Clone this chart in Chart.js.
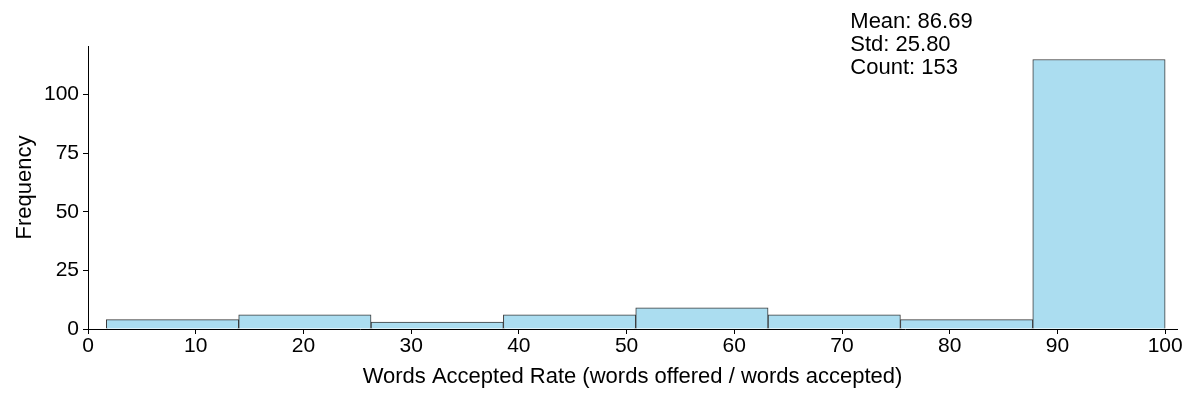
<!DOCTYPE html>
<html lang="en">
<head>
  <meta charset="UTF-8" />
  <title>Words Accepted Rate</title>
  <style>
    html, body { margin: 0; padding: 0; background: #fff; }
    #wrap { width: 1200px; height: 400px; position: relative; }
  </style>
</head>
<body>
  <div id="wrap"><canvas id="histChart"></canvas></div>

  <script src="https://cdn.jsdelivr.net/npm/chart.js"></script>
  <script>
    // histogram data
    const binEdges = [1.7, 13.99, 26.28, 38.56, 50.85, 63.14, 75.42, 87.71, 100];
    const counts = [4, 6, 3, 6, 9, 6, 4, 115];
    const xTicks = [0, 10, 20, 30, 40, 50, 60, 70, 80, 90, 100];
    const yTicks = [0, 25, 50, 75, 100];
    const statLines = ['Mean: 86.69', 'Std: 25.80', 'Count: 153'];

    const font = "'Liberation Sans', Arial, sans-serif";

    const points = counts.map((c, i) => ({ x: (binEdges[i] + binEdges[i + 1]) / 2, y: c }));

    // text box with the summary numbers
    const statsPlugin = {
      id: 'stats',
      afterDraw(chart) {
        const ctx = chart.ctx;
        const area = chart.chartArea;
        ctx.save();
        ctx.fillStyle = '#000';
        ctx.font = '22px ' + font;
        ctx.textBaseline = 'alphabetic';
        const x = area.left + 0.7 * (area.right - area.left);
        statLines.forEach((t, i) => ctx.fillText(t, x, 28 + i * 23));
        ctx.restore();
      }
    };

    new Chart(document.getElementById('histChart'), {
      type: 'bar',
      data: {
        datasets: [{
          label: 'Frequency',
          data: points,
          backgroundColor: '#abddf0',
          borderColor: '#3a3a3a',
          borderWidth: 1,
          barThickness: 'flex',
          barPercentage: 1,
          categoryPercentage: 1
        }]
      },
      options: {
        responsive: true,
        maintainAspectRatio: false,
        animation: false,
        layout: { padding: { top: 46, right: 23, left: 0, bottom: 0 } },
        plugins: { legend: { display: false }, tooltip: { enabled: false } },
        scales: {
          x: {
            type: 'linear',
            min: 0,
            max: 101.1,
            offset: false,
            afterFit(s) { s.height = 71; },
            afterBuildTicks(s) { s.ticks = xTicks.map(v => ({ value: v })); },
            ticks: { color: '#000', font: { family: font, size: 21 }, padding: 0, maxRotation: 0 },
            grid: { display: true, offset: false, drawOnChartArea: false, drawTicks: true, tickLength: 5, color: '#000' },
            border: { display: true, color: '#000', width: 1 },
            title: { display: true, text: 'Words Accepted Rate (words offered / words accepted)', color: '#000', font: { family: font, size: 22 }, padding: { top: 0, bottom: 10 } }
          },
          y: {
            min: 0,
            max: 120.75,
            afterFit(s) { s.width = 88; },
            afterBuildTicks(s) { s.ticks = yTicks.map(v => ({ value: v })); },
            ticks: { color: '#000', font: { family: font, size: 21 }, padding: 4 },
            grid: { display: true, offset: false, drawOnChartArea: false, drawTicks: true, tickLength: 5, color: '#000' },
            border: { display: true, color: '#000', width: 1 },
            title: { display: true, text: 'Frequency', color: '#000', font: { family: font, size: 22 }, padding: { top: 12, bottom: 0 } }
          }
        }
      },
      plugins: [statsPlugin]
    });
  </script>
</body>
</html>
